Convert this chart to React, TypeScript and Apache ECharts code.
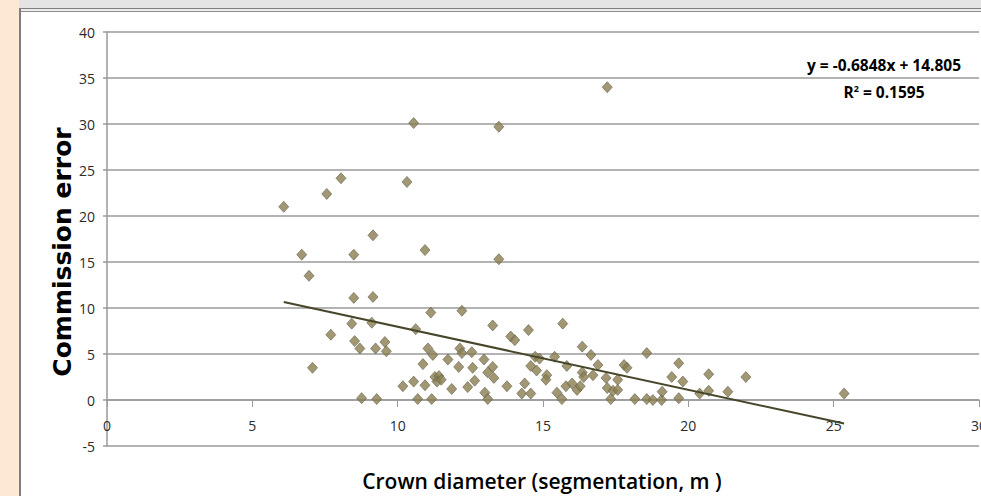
import React, { useEffect, useRef } from "react";
import * as echarts from "echarts";

// Crown diameter (segmentation, m)
const crownDiameter = [
  6.08, 7.56, 8.05, 10.32, 10.55, 13.48, 17.21, 9.15, 6.7, 6.95,
  7.07, 7.7, 8.49, 10.94, 13.48, 8.49, 9.15, 11.14, 12.21, 8.42,
  9.11, 10.62, 13.27, 13.89, 14.03, 14.5, 15.68, 8.52, 8.7, 9.24,
  9.56, 9.61, 11.04, 11.21, 10.87, 11.73, 12.14, 12.21, 12.55, 12.1,
  12.58, 12.97, 13.27, 13.1, 13.31, 10.18, 10.55, 10.94, 11.28, 11.42,
  11.35, 11.86, 12.41, 12.65, 13.0, 13.1, 13.76, 14.27, 14.37, 14.58,
  8.76, 9.28, 10.69, 11.17, 14.58, 14.73, 14.88, 14.78, 15.13, 15.1,
  15.4, 15.48, 15.65, 15.82, 15.79, 16.0, 16.17, 16.28, 16.35, 16.35,
  16.4, 16.65, 16.72, 16.89, 17.17, 17.21, 17.33, 17.41, 17.57, 17.57,
  17.79, 17.89, 18.16, 18.57, 18.57, 19.67, 19.43, 19.81, 18.78, 19.08,
  19.1, 19.67, 20.39, 20.7, 20.7, 21.36, 21.98, 25.36, 11.5,
];

// Commission error
const commissionError = [
  21.0, 22.4, 24.1, 23.7, 30.1, 29.7, 34.0, 17.9, 15.8, 13.5,
  3.5, 7.1, 15.8, 16.3, 15.3, 11.1, 11.2, 9.5, 9.7, 8.3,
  8.4, 7.7, 8.1, 6.9, 6.5, 7.6, 8.3, 6.4, 5.6, 5.6,
  6.3, 5.3, 5.6, 4.9, 3.9, 4.4, 5.6, 5.1, 5.2, 3.6,
  3.5, 4.4, 3.6, 3.0, 2.4, 1.5, 2.0, 1.6, 2.5, 2.6,
  2.0, 1.2, 1.4, 2.1, 0.8, 0.1, 1.5, 0.7, 1.8, 0.7,
  0.2, 0.1, 0.1, 0.1, 3.7, 4.7, 4.5, 3.2, 2.7, 2.2,
  4.7, 0.8, 0.1, 3.7, 1.5, 1.8, 1.1, 1.5, 5.8, 3.0,
  2.5, 4.9, 2.7, 3.8, 2.4, 1.3, 0.1, 1.0, 2.2, 1.1,
  3.8, 3.5, 0.1, 5.1, 0.1, 4.0, 2.5, 2.0, 0.0, 0.0,
  0.9, 0.2, 0.7, 2.8, 1.0, 0.9, 2.5, 0.7, 2.2,
];

// Linear trend line (as printed on the chart)
const trendSlope = -0.6848;
const trendIntercept = 14.805;
const rSquared = 0.1595;

const xTitle = "Crown diameter (segmentation, m )";
const yTitle = "Commission error";

export default function App() {
  const ref = useRef<HTMLDivElement>(null);

  useEffect(() => {
    if (!ref.current) return;
    const chart = echarts.init(ref.current, null, { renderer: "svg" });
    const points = crownDiameter.map((x, i) => [x, commissionError[i]]);
    const xMin = Math.min(...crownDiameter);
    const xMax = Math.max(...crownDiameter);
    const trend = [
      [xMin, trendSlope * xMin + trendIntercept],
      [xMax, trendSlope * xMax + trendIntercept],
    ];
    const eqText = `y = ${trendSlope}x + ${trendIntercept}`;
    const r2Text = `R{sup|2} = ${rSquared}`;

    chart.setOption({
      animation: false,
      backgroundColor: "#ffffff",
      grid: { left: 107, right: 2, top: 32, bottom: 50, containLabel: false, outerBoundsMode: "none" },
      xAxis: {
        type: "value",
        min: 0,
        max: 30,
        interval: 5,
        axisLine: { show: true, onZero: true, lineStyle: { color: "#9a9a9a", width: 1.5 } },
        axisTick: { show: true, length: 7, lineStyle: { color: "#9a9a9a", width: 1 } },
        axisLabel: { margin: -28, fontSize: 14, color: "#2b2b2b", fontFamily: "Open Sans" },
        splitLine: { show: false },
      },
      yAxis: {
        type: "value",
        min: -5,
        max: 40,
        interval: 5,
        axisLine: { show: true, onZero: false, lineStyle: { color: "#9a9a9a", width: 1.5 } },
        axisTick: { show: true, length: 4, lineStyle: { color: "#9a9a9a", width: 1.5 } },
        axisLabel: { margin: 12, fontSize: 14, color: "#2b2b2b", fontFamily: "Open Sans" },
        splitLine: { show: true, lineStyle: { color: "#9a9a9a", width: 1.5 } },
      },
      series: [
        {
          type: "scatter",
          data: points,
          symbol: "diamond",
          symbolSize: [10, 11],
          itemStyle: { color: "#8a7e50", borderColor: "#66624c", borderWidth: 0.8 },
          z: 2,
        },
        {
          type: "line",
          data: trend,
          symbol: "none",
          lineStyle: { color: "#48462a", width: 2 },
          z: 3,
        },
      ],
      graphic: [
        { type: "rect", shape: { x: 0, y: 0, width: 19, height: 496 }, style: { fill: "#fde9d3" }, z: 10 },
        { type: "rect", shape: { x: 19, y: 0, width: 962, height: 8 }, style: { fill: "#e4e4e4" }, z: 10 },
        { type: "rect", shape: { x: 19, y: 9, width: 962, height: 2 }, style: { fill: "#ececec" }, z: 10 },
        { type: "line", shape: { x1: 19, y1: 8.5, x2: 981, y2: 8.5 }, style: { stroke: "#7f7f7f", lineWidth: 1 }, z: 11 },
        { type: "line", shape: { x1: 19, y1: 11.5, x2: 981, y2: 11.5 }, style: { stroke: "#8f8f8f", lineWidth: 1 }, z: 11 },
        { type: "line", shape: { x1: 20, y1: 8, x2: 20, y2: 496 }, style: { stroke: "#7f7f7f", lineWidth: 2 }, z: 11 },
        {
          type: "text",
          x: 62,
          y: 252,
          rotation: Math.PI / 2,
          style: {
            text: yTitle,
            fontFamily: "DejaVu Sans",
            fontWeight: "bold",
            fontSize: 25,
            fill: "#000000",
            align: "center",
            verticalAlign: "middle",
          },
          z: 12,
        },
        {
          type: "text",
          x: 542,
          y: 481,
          style: {
            text: xTitle,
            fontFamily: "Open Sans",
            fontWeight: 600,
            fontSize: 21,
            fill: "#000000",
            align: "center",
            verticalAlign: "middle",
          },
          z: 12,
        },
        {
          type: "text",
          x: 884,
          y: 65,
          style: {
            text: eqText,
            fontFamily: "Open Sans",
            fontWeight: "bold",
            fontSize: 15.5,
            fill: "#000000",
            align: "center",
            verticalAlign: "middle",
          },
          z: 12,
        },
        {
          type: "text",
          x: 884,
          y: 92,
          style: {
            text: r2Text,
            rich: {
              sup: { fontSize: 9, verticalAlign: "top", fontFamily: "Open Sans", fontWeight: "bold", fill: "#000000", padding: [0, 0, 8, 0] },
            },
            fontFamily: "Open Sans",
            fontWeight: "bold",
            fontSize: 15.5,
            fill: "#000000",
            align: "center",
            verticalAlign: "middle",
          },
          z: 12,
        },
      ],
    });
    return () => chart.dispose();
  }, []);

  return (
    <div
      ref={ref}
      style={{ position: "fixed", left: 0, top: 0, width: 981, height: 496, background: "#ffffff" }}
    />
  );
}
